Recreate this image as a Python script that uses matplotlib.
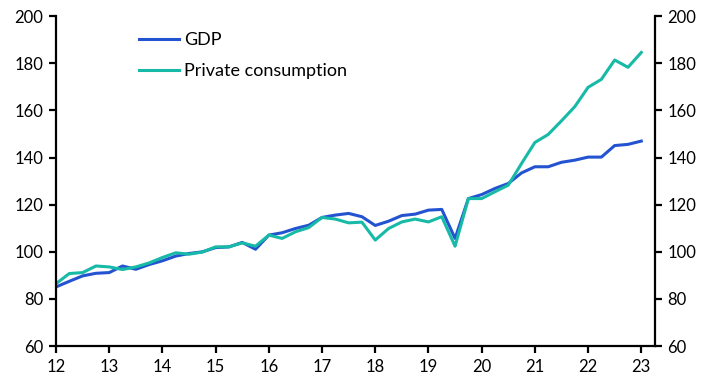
import numpy as np
import matplotlib.pyplot as plt

# quarterly index, 2012Q1 .. 2023Q1
quarters = np.arange(45) / 4 + 12

gdp = [85.1, 87.5, 89.8, 90.9, 91.2, 94.0, 92.6, 94.6, 96.2, 98.2, 99.3, 100.0,
       101.8, 102.1, 104.0, 101.1, 107.1, 108.1, 109.9, 111.3, 114.6, 115.6, 116.3, 114.9,
       111.2, 113.0, 115.4, 116.0, 117.7, 118.0, 105.7, 122.6, 124.3, 126.9, 129.0, 133.5,
       136.1, 136.1, 138.0, 138.9, 140.2, 140.2, 145.1, 145.6, 147.0]

consumption = [86.5, 90.8, 91.2, 94.0, 93.6, 92.5, 93.6, 95.3, 97.6, 99.6, 99.0, 99.9,
               102.1, 102.1, 103.8, 102.4, 107.1, 105.7, 108.5, 110.3, 114.6, 113.9, 112.3, 112.6,
               105.0, 109.9, 112.7, 113.9, 112.7, 114.9, 102.4, 122.6, 122.6, 125.5, 128.3, 137.5,
               146.4, 149.8, 155.6, 161.6, 169.8, 173.2, 181.4, 178.3, 184.6]

x_ticks = list(range(12, 24))
y_ticks = list(range(60, 201, 20))

plt.rcParams['font.family'] = ['Lato', 'DejaVu Sans']

fig = plt.figure(figsize=(7.09, 3.85), dpi=100)
ax = fig.add_axes([0.079, 0.101, 0.845, 0.857])

ax.plot(quarters, gdp, color="#2353d0", lw=2.2, label="GDP")
ax.plot(quarters, consumption, color="#17b9a7", lw=2.2, label="Private consumption")

ax.set_xlim(12, 23.26)
ax.set_ylim(60, 200)
ax.set_xticks(x_ticks)
ax.set_yticks(y_ticks)

ax.spines["top"].set_visible(False)
for side in ["left", "right", "bottom"]:
    ax.spines[side].set_linewidth(1.6)

ax.tick_params(axis="both", direction="out", length=5, width=1.6, labelsize=12, pad=4)
ax.tick_params(axis="y", right=True, labelright=True)

ax.legend(loc="upper left", bbox_to_anchor=(0.112, 1.0), frameon=False, fontsize=13,
          handlelength=2.2, handletextpad=0.28, labelspacing=0.83)

fig.savefig("out.png", dpi=100)
